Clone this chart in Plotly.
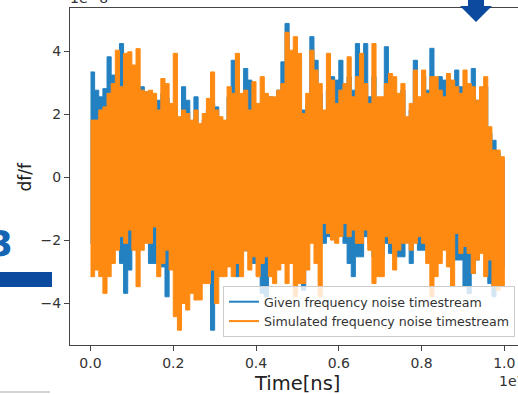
import numpy as np
import plotly.graph_objects as go

# Time base: 100 segments spanning 0..1.0 (units of 1e7 ns)
n_seg = 100
time_edges = np.arange(n_seg + 1) / n_seg  # x 1e7 ns

# df/f envelopes per segment (units of 1e-8)
given_hi = [3.34, 2.76, 2.55, 2.81, 3.82, 3.24, 2.87, 4.24, 3.19, 3.40,
            3.46, 2.87, 2.87, 2.71, 2.55, 2.13, 2.44, 2.66, 2.50, 1.81,
            2.13, 1.81, 2.87, 2.44, 1.70, 2.55, 1.28, 1.81, 2.13, 2.34,
            2.23, 1.81, 1.70, 2.55, 3.71, 3.19, 2.34, 3.45, 3.08, 2.13,
            1.81, 2.34, 2.55, 2.55, 2.34, 2.76, 3.66, 4.88, 3.61, 3.40,
            3.71, 2.13, 2.34, 4.46, 3.71, 2.66, 1.92, 2.76, 3.19, 3.08,
            3.71, 2.55, 3.19, 2.76, 4.24, 3.19, 4.24, 2.55, 3.19, 2.13,
            2.13, 4.14, 2.87, 2.55, 2.55, 2.76, 1.81, 2.13, 3.71, 2.34,
            3.19, 2.76, 4.09, 2.97, 3.19, 3.08, 2.87, 2.87, 3.40, 2.87,
            2.34, 2.87, 3.45, 2.44, 2.66, 2.87, 1.39, 1.17, 0.75, 0.54]
given_lo = [-2.10, -2.00, -2.53, -2.32, -2.10, -1.89, -1.26, -2.74, -3.69, -2.95,
            -2.10, -2.10, -2.00, -1.58, -2.74, -2.74, -2.63, -2.85, -3.80, -2.10,
            -2.32, -2.53, -2.95, -2.00, -2.95, -3.06, -2.74, -2.74, -2.53, -4.86,
            -3.06, -2.74, -2.53, -2.10, -2.10, -3.16, -2.34, -2.34, -2.10, -2.74,
            -2.34, -3.69, -3.80, -2.85, -2.53, -2.34, -2.10, -2.53, -2.10, -2.74,
            -2.74, -3.59, -1.47, -1.68, -2.10, -2.10, -2.10, -1.89, -1.47, -1.68,
            -1.58, -2.10, -2.74, -3.16, -2.53, -2.53, -1.89, -2.10, -2.53, -2.74,
            -2.53, -2.10, -2.42, -2.10, -2.53, -2.53, -1.89, -2.74, -2.00, -2.32,
            -2.32, -2.10, -2.53, -2.32, -2.32, -2.10, -2.20, -2.42, -2.63, -2.63,
            -3.48, -3.69, -3.06, -2.63, -2.20, -2.42, -3.38, -3.80, -3.06, -2.85]
sim_hi = [1.81, 1.81, 2.13, 2.23, 2.66, 2.97, 4.03, 2.87, 3.93, 3.98,
          3.56, 4.08, 2.76, 2.71, 2.76, 2.66, 2.13, 3.13, 2.97, 2.34,
          3.93, 1.92, 2.13, 2.02, 1.81, 2.13, 1.70, 2.02, 2.50, 3.34,
          2.13, 1.92, 1.81, 2.87, 2.66, 3.93, 2.66, 2.76, 2.13, 3.03,
          2.34, 3.19, 2.66, 2.55, 2.55, 2.76, 2.97, 4.60, 4.03, 4.46,
          3.93, 2.02, 2.66, 4.03, 3.40, 2.97, 2.13, 3.93, 3.08, 2.34,
          2.76, 2.97, 3.82, 2.55, 3.19, 3.93, 2.97, 2.34, 4.24, 2.55,
          2.55, 2.97, 3.29, 3.19, 2.66, 2.97, 1.92, 2.34, 3.40, 2.55,
          3.40, 2.66, 3.19, 3.19, 2.76, 2.55, 3.29, 3.08, 2.87, 2.66,
          3.40, 2.97, 2.87, 2.44, 2.87, 3.19, 1.60, 0.86, 0.86, 0.65]
sim_lo = [-3.16, -2.95, -3.16, -3.69, -3.16, -2.74, -2.32, -1.89, -2.10, -1.68,
          -2.32, -3.48, -2.32, -2.10, -2.10, -1.58, -3.16, -2.74, -2.32, -2.95,
          -4.43, -4.86, -4.01, -4.22, -3.69, -3.90, -3.90, -3.38, -3.38, -2.95,
          -4.01, -3.16, -3.16, -2.85, -3.16, -2.74, -3.16, -2.34, -2.95, -2.53,
          -3.16, -2.74, -2.53, -3.16, -3.38, -2.95, -2.74, -3.38, -2.74, -3.80,
          -3.38, -3.38, -2.95, -2.10, -2.74, -3.80, -1.47, -1.79, -2.00, -2.10,
          -1.89, -1.47, -1.89, -1.68, -2.10, -2.10, -1.68, -2.32, -3.38, -3.16,
          -3.16, -1.89, -2.10, -2.95, -2.32, -2.10, -2.10, -2.32, -2.10, -1.89,
          -2.10, -2.74, -3.80, -3.16, -2.74, -2.32, -2.85, -3.48, -1.79, -2.42,
          -2.20, -2.42, -3.06, -2.63, -2.42, -3.16, -2.63, -3.48, -3.59, -3.48]

x_ticks = [0.0, 0.2, 0.4, 0.6, 0.8, 1.0]
y_ticks = [-4, -2, 0, 2, 4]
series_names = ["Given frequency noise timestream", "Simulated frequency noise timestream"]
colors = ["#2381c2", "#ff8a12"]


def band(hi, lo):
    hi = np.asarray(hi)
    lo = np.asarray(lo)
    left = time_edges[:-1]
    right = time_edges[1:]
    xt = np.column_stack([left, right]).ravel()
    yt = np.column_stack([hi, hi]).ravel()
    xb = np.column_stack([left, right]).ravel()[::-1]
    yb = np.column_stack([lo, lo]).ravel()[::-1]
    return np.concatenate([xt, xb]), np.concatenate([yt, yb])


fig = go.Figure()
for hi, lo, c in [(given_hi, given_lo, colors[0]), (sim_hi, sim_lo, colors[1])]:
    bx, by = band(hi, lo)
    fig.add_trace(go.Scatter(x=bx, y=by, mode="lines", fill="toself", fillcolor=c,
                             line=dict(color=c, width=1), showlegend=False,
                             hoverinfo="skip"))
for name, c in zip(series_names, colors):
    fig.add_trace(go.Scatter(x=[None], y=[None], mode="lines", name=name,
                             line=dict(color=c, width=2)))

axis_col = "#444444"
font = "DejaVu Sans"
fig.update_layout(
    width=518, height=394,
    margin=dict(l=70, r=0, t=8, b=49),
    paper_bgcolor="white", plot_bgcolor="white",
    font=dict(family=font, size=14, color="#333333"),
    showlegend=True,
    legend=dict(x=0.9933, xanchor="right", y=0.0237, yanchor="bottom",
                bgcolor="rgba(255,255,255,0.8)", bordercolor="#cccccc", borderwidth=1,
                font=dict(family=font, size=12.6, color="#333333"),
                tracegroupgap=0, itemwidth=30),
    xaxis=dict(range=[-0.0495, 1.033], tickvals=x_ticks, ticktext=[f"{v:.1f}" for v in x_ticks],
               showgrid=False, zeroline=False, showline=True, linecolor=axis_col, linewidth=1,
               mirror=True, ticks="outside", ticklen=5, tickcolor=axis_col,
               tickfont=dict(size=14, color="#333333"), automargin=False),
    yaxis=dict(range=[-5.33, 5.37], tickvals=y_ticks,
               showgrid=False, zeroline=False, showline=True, linecolor=axis_col, linewidth=1,
               mirror=False, ticks="outside", ticklen=5, tickcolor=axis_col,
               tickfont=dict(size=14, color="#333333"), automargin=False),
)

fig.add_annotation(text="Time[ns]", xref="paper", yref="paper", x=0.506, y=0,
                   xanchor="center", yanchor="middle", yshift=-38, showarrow=False,
                   font=dict(family=font, size=19.5, color="#222222"))
fig.add_annotation(text="df/f", xref="paper", yref="paper", x=0, y=0.5, textangle=-90,
                   xanchor="center", yanchor="middle", xshift=-46, showarrow=False,
                   font=dict(family=font, size=17, color="#222222"))
fig.add_annotation(text="1e\u22128", xref="paper", yref="paper", x=0, y=1,
                   xanchor="left", yanchor="bottom", xshift=-2, yshift=0, showarrow=False,
                   font=dict(family=font, size=14, color="#333333"))
fig.add_annotation(text="1e7", xref="paper", yref="paper", x=0.953, y=0,
                   xanchor="left", yanchor="middle", yshift=-36, showarrow=False,
                   font=dict(family=font, size=14, color="#333333"))
# slide artifacts around the cropped chart
fig.add_annotation(text="<b>3</b>", xref="paper", yref="paper", x=0, y=0.5,
                   xanchor="right", yanchor="middle", xshift=-55, yshift=-67, showarrow=False,
                   font=dict(family=font, size=36, color="#1565b4"))
fig.add_shape(type="rect", xref="paper", yref="paper", x0=-70/448, x1=-18/448,
              y0=(345-287)/337, y1=(345-272)/337, fillcolor="#0b4a9e", line_width=0)
fig.add_shape(type="path", xref="paper", yref="paper",
              path=" ".join([
                  f"M {(468-70)/448} {(345+2)/337}", f"L {(484-70)/448} {(345+2)/337}",
                  f"L {(484-70)/448} {(345-6)/337}", f"L {(492-70)/448} {(345-6)/337}",
                  f"L {(476-70)/448} {(345-22)/337}", f"L {(460-70)/448} {(345-6)/337}",
                  f"L {(468-70)/448} {(345-6)/337}", "Z"]),
              fillcolor="#0b4a9e", line_width=0)
fig.add_shape(type="line", xref="paper", yref="paper", x0=-70/448, x1=-20/448,
              y0=-(392-345)/337, y1=-(392-345)/337, line=dict(color="#aaaaaa", width=1))

fig.write_html("out.html", config={"displayModeBar": False},
               post_script="document.body.style.margin='0';document.body.style.overflow='hidden';")
